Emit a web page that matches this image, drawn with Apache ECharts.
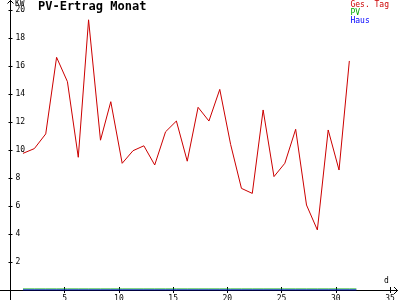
<!DOCTYPE html>
<html><head><meta charset="utf-8">
<script src="https://cdn.jsdelivr.net/npm/echarts@6/dist/echarts.min.js"></script>
<style>html,body{margin:0;padding:0;background:#fff}#c{width:400px;height:300px}</style>
</head><body><div id="c"></div>
<script>
// Day positions (x) and daily values
var dayX = [1.15,2.2,3.25,4.25,5.25,6.25,7.2,8.3,9.25,10.3,11.3,12.3,13.3,14.3,15.3,16.3,17.3,18.3,19.3,20.3,21.3,22.3,23.3,24.3,25.3,26.3,27.3,28.3,29.3,30.3,31.25,31.9];
var gesTag = [9.76,10.1,11.15,16.62,14.88,9.48,19.3,10.7,13.45,9.05,9.95,10.3,8.93,11.3,12.07,9.2,13.05,12.07,14.33,10.4,7.26,6.9,12.86,8.1,9.05,11.48,6.07,4.29,11.43,8.57,16.36];
var pv   = [0.07,0.07,0.07,0.07,0.07,0.07,0.07,0.07,0.07,0.07,0.07,0.07,0.07,0.07,0.07,0.07,0.07,0.07,0.07,0.07,0.07,0.07,0.07,0.07,0.07,0.07,0.07,0.07,0.07,0.07,0.07,0.07];
var haus = [0,0,0,0,0,0,0,0,0,0,0,0,0,0,0,0,0,0,0,0,0,0,0,0,0,0,0,0,0,0,0,0];
var seriesNames = ['Ges. Tag','PV','Haus'];
var colors = ['#cc0000','#00aa00','#0000ff'];
var xTicks = {min:0,max:35,interval:5};
var yTicks = {min:0,max:20,interval:2};

function pairs(xs, ys){ var out=[]; for(var i=0;i<ys.length;i++){ out.push([xs[i], ys[i]]); } return out; }

var font = 'DejaVu Sans Mono';
var chart = echarts.init(document.getElementById('c'), null, {renderer:'canvas'});
chart.setOption({
  animation:false,
  backgroundColor:'#ffffff',
  title:{text:'PV-Ertrag Monat', left:38, top:1, padding:0,
    textStyle:{fontFamily:font, fontWeight:'bold', fontSize:12, color:'#000'}},
  legend:{orient:'vertical', right:11, top:1, padding:0, itemGap:0, itemWidth:0, itemHeight:0,
    icon:'none', selectedMode:false,
    textStyle:{fontFamily:font, fontSize:8, padding:[0,0,0,-5]},
    data:seriesNames.map(function(n,i){return {name:n, icon:'none', textStyle:{color:colors[i]}};})},
  grid:{left:10.5, right:10, top:10, bottom:10, containLabel:false, outerBoundsMode:'none'},
  xAxis:[
    {type:'value', min:xTicks.min, max:xTicks.max, interval:xTicks.interval,
     axisLine:{show:false}, splitLine:{show:false},
     axisTick:{show:true, inside:false, length:3, lineStyle:{color:'#000'}},
     axisLabel:{showMinLabel:false, margin:5, fontFamily:font, fontSize:8, color:'#000'}},
    {type:'value', min:xTicks.min, max:xTicks.max, interval:xTicks.interval, position:'bottom',
     axisLine:{show:false}, splitLine:{show:false},
     axisTick:{show:true, inside:true, length:3, lineStyle:{color:'#000'}},
     axisLabel:{show:false}}
  ],
  yAxis:[
    {type:'value', min:yTicks.min, max:yTicks.max, interval:yTicks.interval,
     axisLine:{show:false}, splitLine:{show:false},
     axisTick:{show:true, inside:true, length:2, lineStyle:{color:'#000'}},
     axisLabel:{inside:true, showMinLabel:false, margin:5, fontFamily:font, fontSize:8, color:'#000'}},
    {type:'value', min:yTicks.min, max:yTicks.max, interval:yTicks.interval, position:'left',
     axisLine:{show:false}, splitLine:{show:false},
     axisTick:{show:true, inside:false, length:2, lineStyle:{color:'#000'}},
     axisLabel:{show:false}}
  ],
  graphic:[
    {type:'polyline', z:1, shape:{points:[[0,290.5],[398,290.5]]}, style:{stroke:'#000', lineWidth:1, fill:null}},
    {type:'polyline', z:1, shape:{points:[[394,287],[397.5,290.5],[394,294]]}, style:{stroke:'#000', lineWidth:1, fill:null}},
    {type:'polyline', z:1, shape:{points:[[10.5,300],[10.5,0]]}, style:{stroke:'#000', lineWidth:1, fill:null}},
    {type:'polyline', z:1, shape:{points:[[7.5,3.5],[10.5,0.5],[13.5,3.5]]}, style:{stroke:'#000', lineWidth:1, fill:null}},
    {type:'text', z:1, left:15, top:0, style:{text:'KW', fontFamily:font, fontSize:8, fill:'#000'}},
    {type:'text', z:1, left:384, top:277, style:{text:'d', fontFamily:font, fontSize:8, fill:'#000'}}
  ],
  series:[
    {name:seriesNames[0], type:'line', data:pairs(dayX, gesTag), showSymbol:false, symbol:'none',
     lineStyle:{color:colors[0], width:1}, itemStyle:{color:colors[0]}, z:5},
    {name:seriesNames[1], type:'line', data:pairs(dayX, pv), showSymbol:false, symbol:'none',
     lineStyle:{color:colors[1], width:1}, itemStyle:{color:colors[1]}, z:3},
    {name:seriesNames[2], type:'line', data:pairs(dayX, haus), showSymbol:false, symbol:'none',
     lineStyle:{color:colors[2], width:1.2}, itemStyle:{color:colors[2]}, z:4}
  ]
});
</script></body></html>
